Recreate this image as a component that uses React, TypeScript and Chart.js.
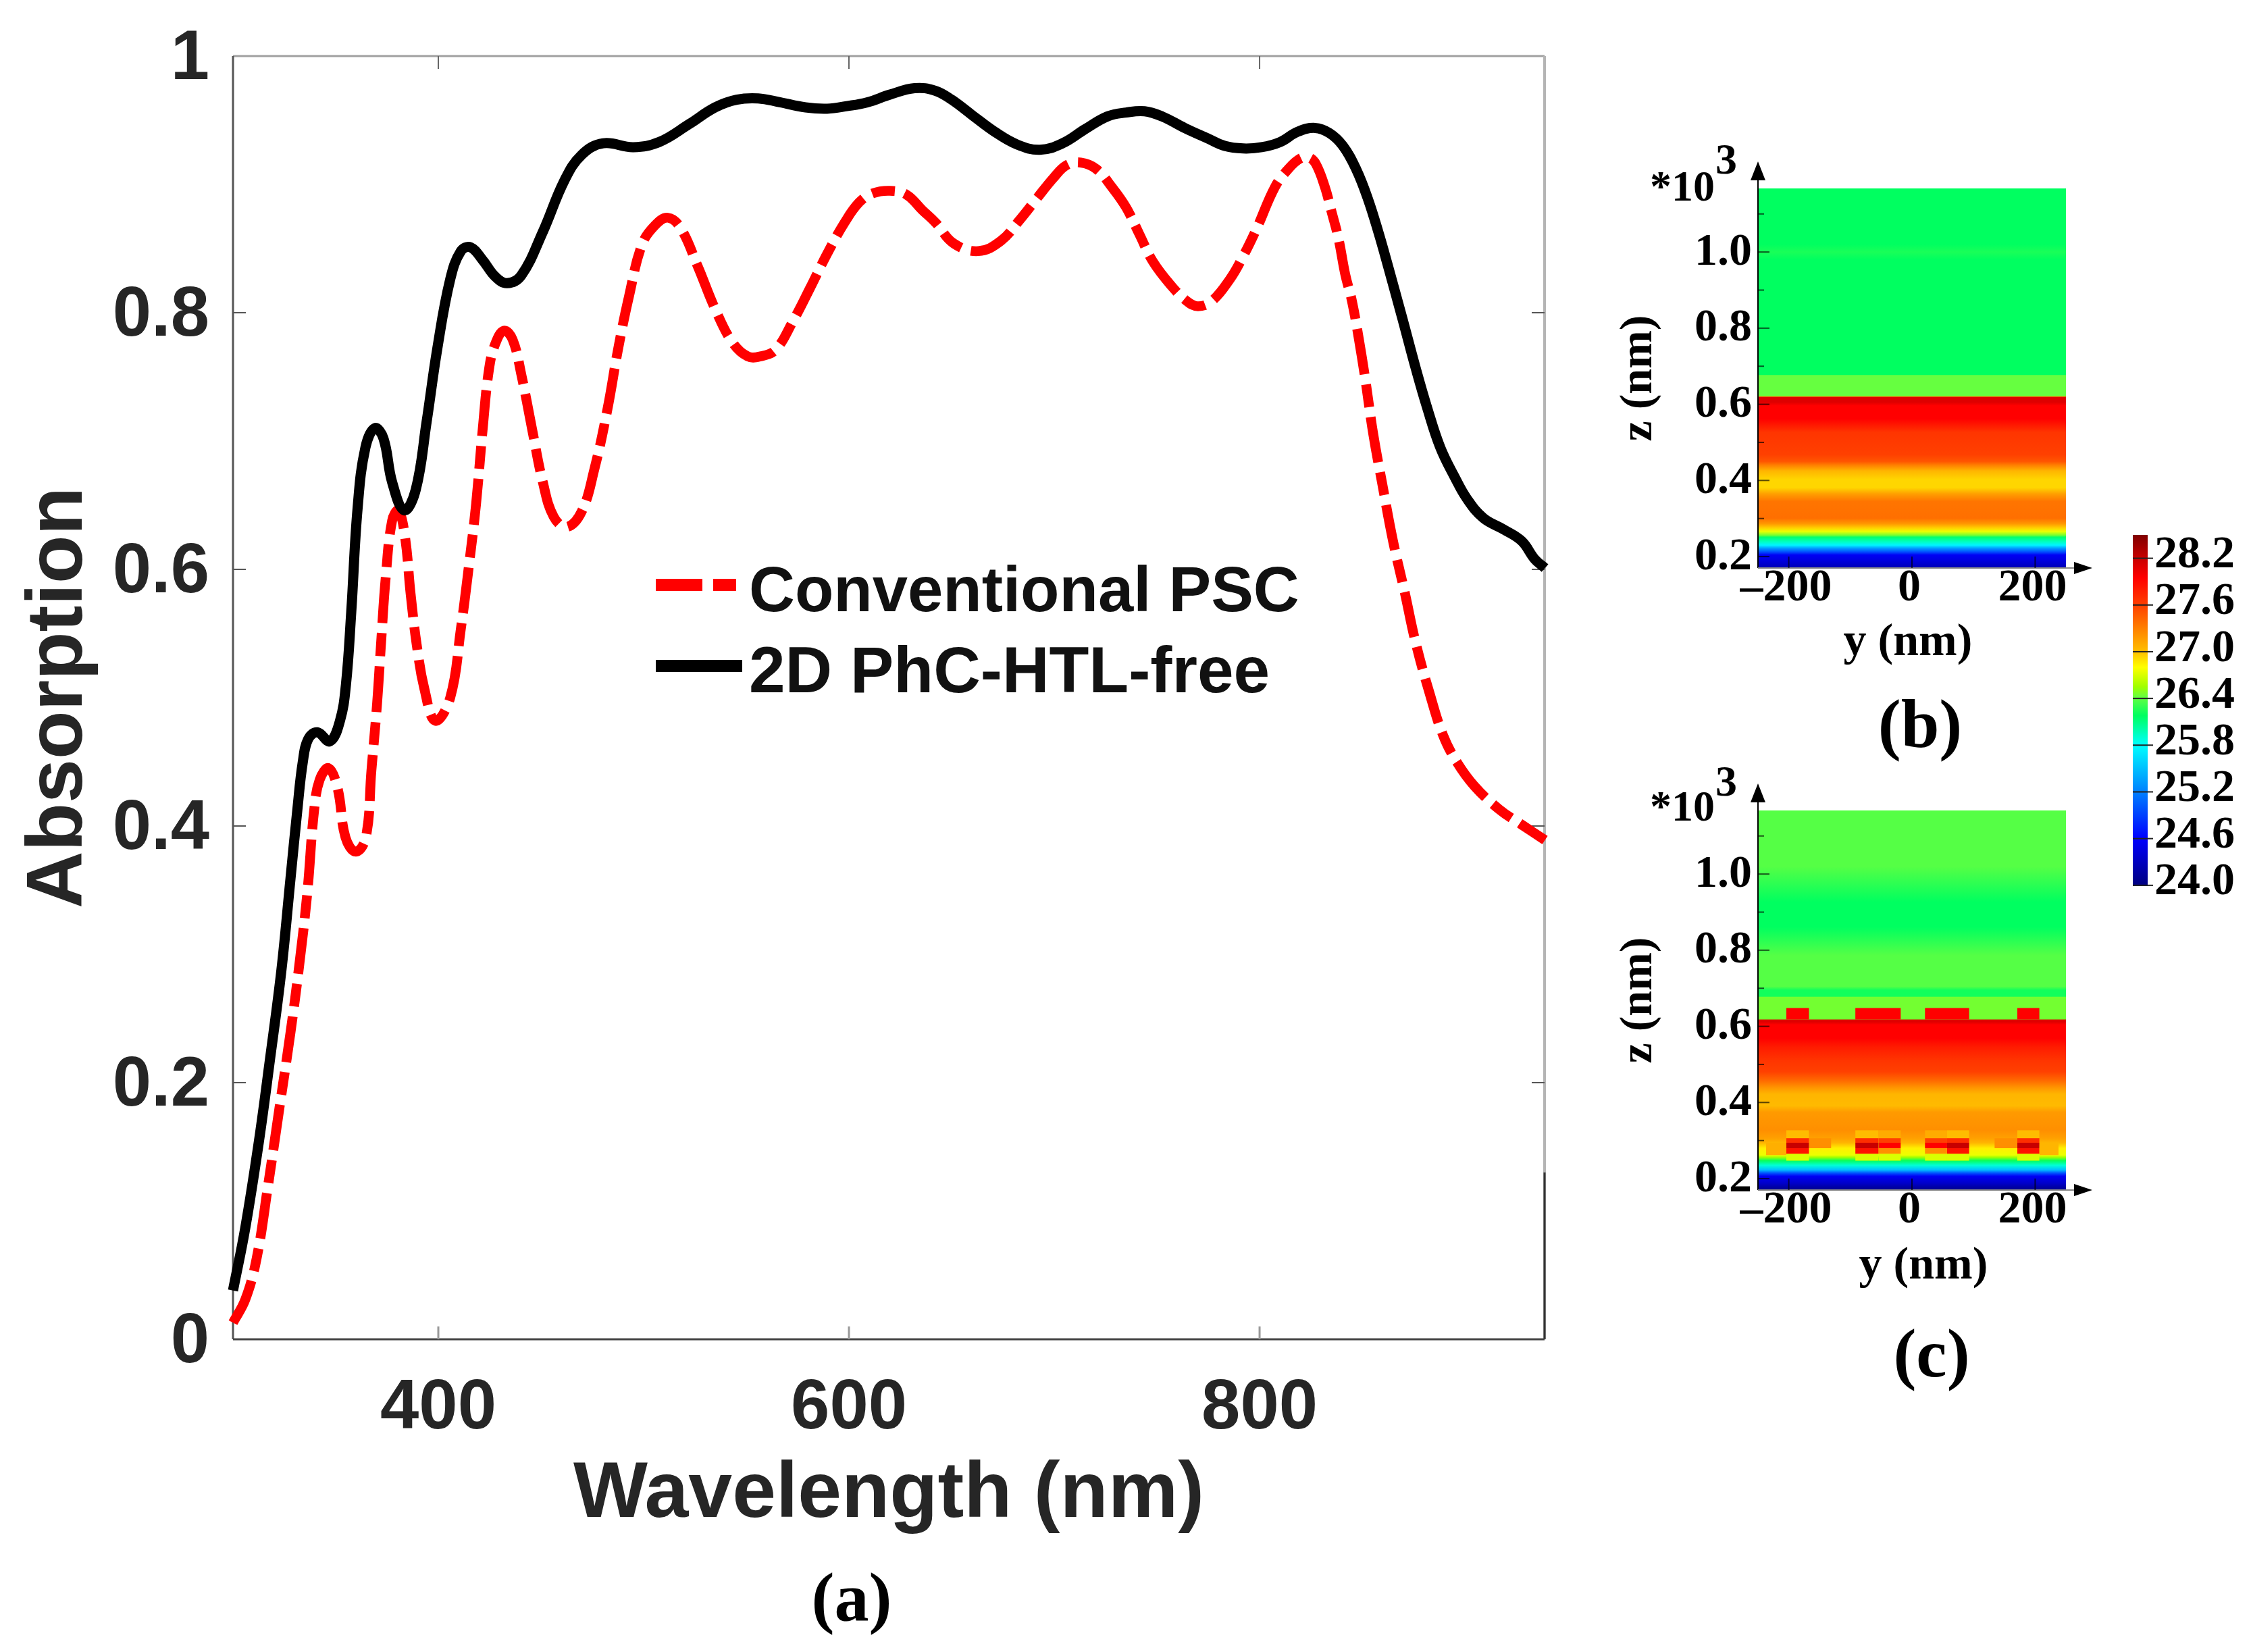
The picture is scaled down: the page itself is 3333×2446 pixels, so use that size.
import React, { useEffect, useRef } from 'react';
import { Chart, registerables } from 'chart.js';

Chart.register(...registerables);

// panel (a) curves
const freeWavelength = [300, 306, 312.6, 318, 323.6, 328, 331.3, 334, 336.7, 341.1, 347.2, 352.1, 355, 357.6, 360.7, 364.5, 369.1, 373.3, 377.5, 383.4, 389, 394.3, 399.5, 405.8, 411, 415.7, 421.6, 427.8, 433.5, 440.4, 450.9, 461.4, 469.8, 480.3, 495, 507.6, 522.2, 534.8, 545.3, 555.8, 566.3, 578.9, 589.4, 599, 609, 620, 632, 642, 650, 660, 671, 682, 693, 704, 715, 726, 735, 744, 752.5, 763.5, 774.5, 783, 792, 801, 810, 818.5, 827, 834, 840.6, 847, 852.7, 858, 862.6, 869.3, 876, 881.6, 888, 895, 901, 909, 919, 927.7, 934, 939];
const freeAbsorption = [0.038, 0.087, 0.154, 0.218, 0.288, 0.359, 0.412, 0.45, 0.468, 0.473, 0.466, 0.482, 0.51, 0.567, 0.648, 0.695, 0.71, 0.702, 0.668, 0.646, 0.662, 0.715, 0.772, 0.826, 0.848, 0.851, 0.841, 0.828, 0.823, 0.829, 0.863, 0.903, 0.923, 0.932, 0.929, 0.933, 0.947, 0.96, 0.966, 0.967, 0.964, 0.96, 0.959, 0.961, 0.964, 0.97, 0.975, 0.973, 0.966, 0.954, 0.941, 0.931, 0.927, 0.932, 0.943, 0.953, 0.956, 0.957, 0.953, 0.944, 0.936, 0.93, 0.928, 0.929, 0.933, 0.941, 0.944, 0.94, 0.93, 0.912, 0.889, 0.862, 0.836, 0.797, 0.757, 0.726, 0.695, 0.672, 0.655, 0.64, 0.631, 0.622, 0.608, 0.601];

const convWavelength = [300, 306, 311.5, 317, 322.5, 328, 332.3, 336.2, 339.5, 342.2, 346.6, 351, 354.8, 359.8, 364.7, 367.4, 370.2, 372.3, 374.4, 377.5, 380.6, 383.8, 386.5, 389.5, 393.2, 398.5, 405.8, 411, 415.3, 418.4, 421.6, 424.7, 427.8, 432, 436.2, 440.4, 445.7, 450.9, 456.2, 462.5, 469.8, 476, 482.4, 487.6, 492.9, 499.2, 505.5, 511.8, 518, 526.4, 534.8, 543.2, 550.6, 556.9, 564.2, 572.6, 581, 589.4, 597.8, 605, 611.6, 620, 628, 635.7, 642.3, 651, 663, 674, 683, 691, 699.6, 706, 713, 720.5, 728, 735, 741.5, 748, 757, 764.6, 770, 776.7, 785.5, 792, 798.7, 807.5, 814, 819.6, 824, 827.4, 831.8, 835, 838.4, 841.7, 845, 848.3, 851.6, 855.3, 859.7, 865, 870.7, 876, 882.7, 889.3, 896, 904.7, 916.7, 927.7, 939];
const convAbsorption = [0.013, 0.031, 0.063, 0.119, 0.179, 0.239, 0.292, 0.348, 0.412, 0.436, 0.445, 0.429, 0.391, 0.38, 0.391, 0.443, 0.496, 0.547, 0.594, 0.638, 0.646, 0.625, 0.581, 0.541, 0.507, 0.482, 0.5, 0.554, 0.608, 0.651, 0.709, 0.756, 0.776, 0.786, 0.779, 0.752, 0.709, 0.668, 0.641, 0.633, 0.645, 0.678, 0.725, 0.772, 0.813, 0.853, 0.868, 0.874, 0.866, 0.836, 0.803, 0.777, 0.766, 0.766, 0.771, 0.793, 0.819, 0.846, 0.87, 0.886, 0.893, 0.895, 0.892, 0.88, 0.87, 0.854, 0.848, 0.856, 0.872, 0.888, 0.905, 0.915, 0.917, 0.912, 0.898, 0.882, 0.861, 0.84, 0.821, 0.809, 0.805, 0.809, 0.826, 0.844, 0.866, 0.898, 0.912, 0.92, 0.921, 0.916, 0.898, 0.879, 0.858, 0.83, 0.809, 0.78, 0.747, 0.706, 0.667, 0.622, 0.582, 0.543, 0.504, 0.471, 0.45, 0.431, 0.413, 0.401, 0.389];

const wavelengthTicks = [400, 600, 800];
const absorptionTicks = [0, 0.2, 0.4, 0.6, 0.8, 1];

// panels (b) and (c): z in units of 10^3 nm, temperature profile along z
// a repeated z is a sharp jump between two layers
const zTicks = [0.2, 0.3, 0.4, 0.5, 0.6, 0.7, 0.8, 0.9, 1.0, 1.1];
const zTickText = ['0.2', '', '0.4', '', '0.6', '', '0.8', '', '1.0', ''];
const yTicks = [-200, 0, 200];

const profileZB = [1.168, 1.02, 1.0, 0.98, 0.677, 0.677, 0.621, 0.621, 0.618, 0.606, 0.596, 0.562, 0.526, 0.468, 0.45, 0.44, 0.425, 0.402, 0.381, 0.365, 0.345, 0.301, 0.287, 0.275, 0.266, 0.256, 0.251, 0.239, 0.23, 0.222, 0.212, 0.204, 0.19, 0.17];
const profileTB = [26.18, 26.18, 26.24, 26.18, 26.18, 26.42, 26.42, 27.2, 28.1, 28.1, 27.95, 27.95, 27.66, 27.6, 27.5, 27.3, 27.05, 26.93, 26.93, 27.15, 27.35, 27.38, 27.2, 26.95, 26.75, 26.45, 26.15, 25.95, 25.75, 25.35, 24.95, 24.55, 24.45, 24.25];

const profileZC = [1.168, 1.02, 0.926, 0.861, 0.786, 0.705, 0.695, 0.678, 0.678, 0.618, 0.618, 0.612, 0.604, 0.569, 0.546, 0.51, 0.481, 0.457, 0.439, 0.422, 0.392, 0.374, 0.327, 0.306, 0.294, 0.28, 0.262, 0.256, 0.247, 0.235, 0.223, 0.214, 0.206, 0.188, 0.17];
const profileTC = [26.38, 26.38, 26.18, 26.18, 26.38, 26.38, 26.22, 26.22, 26.45, 26.45, 28.1, 28.1, 27.95, 27.95, 27.8, 27.66, 27.6, 27.4, 27.2, 27.05, 27.03, 27.18, 27.23, 27.15, 27.05, 26.85, 26.75, 26.55, 26.2, 25.9, 25.5, 24.95, 24.55, 24.35, 24.05];

// y start, y end, z top, z bottom, temperature
const cellsC: number[][] = [
  [-204, -167, 0.648, 0.618, 27.95], [-92, -18, 0.648, 0.618, 27.95], [21, 93, 0.648, 0.618, 27.95], [171, 207, 0.648, 0.618, 27.95],
  [-237, -204, 0.294, 0.262, 27.08], [-167, -131, 0.306, 0.28, 27.23], [134, 171, 0.306, 0.28, 27.23], [207, 238, 0.294, 0.262, 27.05],
  [-204, -167, 0.327, 0.306, 27.02], [-204, -167, 0.306, 0.294, 27.7], [-204, -167, 0.294, 0.28, 28.2], [-204, -167, 0.28, 0.265, 27.85], [-204, -167, 0.265, 0.247, 26.7],
  [-92, -54, 0.327, 0.306, 27.02], [-92, -54, 0.306, 0.294, 27.7], [-92, -54, 0.294, 0.28, 28.2], [-92, -54, 0.28, 0.265, 27.85], [-92, -54, 0.265, 0.247, 26.7],
  [-54, -18, 0.327, 0.306, 27.1], [-54, -18, 0.306, 0.294, 27.6], [-54, -18, 0.294, 0.28, 27.95], [-54, -18, 0.28, 0.265, 27.23], [-54, -18, 0.265, 0.247, 26.7],
  [21, 57, 0.327, 0.306, 27.1], [21, 57, 0.306, 0.294, 27.6], [21, 57, 0.294, 0.28, 27.95], [21, 57, 0.28, 0.265, 27.23], [21, 57, 0.265, 0.247, 26.7],
  [57, 93, 0.327, 0.306, 27.02], [57, 93, 0.306, 0.294, 27.7], [57, 93, 0.294, 0.28, 28.2], [57, 93, 0.28, 0.265, 27.85], [57, 93, 0.265, 0.247, 26.7],
  [171, 207, 0.327, 0.306, 27.02], [171, 207, 0.306, 0.294, 27.7], [171, 207, 0.294, 0.28, 28.2], [171, 207, 0.28, 0.265, 27.85], [171, 207, 0.265, 0.247, 26.7],
];

// colour bar
const colorTicks = [24.0, 24.6, 25.2, 25.8, 26.4, 27.0, 27.6, 28.2];
const colorStops: [number, number[]][] = [
  [24.0, [0, 0, 128]], [24.6, [0, 0, 255]], [25.2, [0, 128, 255]], [25.8, [0, 255, 255]],
  [26.1, [0, 255, 128]], [26.18, [0, 255, 96]], [26.42, [102, 255, 64]], [26.55, [160, 255, 0]],
  [26.8, [255, 255, 0]], [27.0, [255, 192, 0]], [27.3, [255, 128, 0]], [27.6, [255, 64, 0]],
  [27.95, [255, 0, 0]], [28.2, [200, 0, 0]], [28.5, [128, 0, 0]],
];

const heatColor = (t: number) => {
  for (let i = 1; i < colorStops.length; i++) {
    const [t1, c1] = colorStops[i];
    if (t <= t1) {
      const [t0, c0] = colorStops[i - 1];
      const f = Math.max(0, (t - t0) / (t1 - t0));
      const c = c0.map((v, k) => Math.round(v + (c1[k] - v) * f));
      return `rgb(${c[0]},${c[1]},${c[2]})`;
    }
  }
  return 'rgb(128,0,0)';
};

const SANS = "'Liberation Sans', Arial, sans-serif";
const SERIF = "'Liberation Serif', 'Times New Roman', serif";

const useChart = (makeConfig: () => any) => {
  const ref = useRef<HTMLCanvasElement>(null);
  useEffect(() => {
    if (!ref.current) return;
    const chart = new Chart(ref.current, makeConfig());
    return () => chart.destroy();
  }, []);
  return ref;
};

const toXY = (xs: number[], ys: number[]) => xs.map((x, i) => ({ x, y: ys[i] }));

// the layout must not grow the plot area for labels that stick out
const noOverflow = (s: any) => {
  s.paddingTop = 0;
  s.paddingBottom = 0;
  s.paddingLeft = 0;
  s.paddingRight = 0;
};

// box and inward ticks of panel (a)
const boxPlugin = {
  id: 'box',
  beforeDatasetsDraw(chart: any) {
    const { ctx, chartArea: a, scales } = chart;
    ctx.save();
    ctx.lineCap = 'butt';
    const line = (x0: number, y0: number, x1: number, y1: number, c: string, w: number) => {
      ctx.strokeStyle = c;
      ctx.lineWidth = w;
      ctx.beginPath();
      ctx.moveTo(x0, y0);
      ctx.lineTo(x1, y1);
      ctx.stroke();
    };
    line(a.left, a.top, a.right, a.top, '#a0a0a0', 3);
    line(a.right, a.top, a.right, a.bottom, '#b4b4b4', 4);
    line(a.right, scales.y.getPixelForValue(0.13), a.right, a.bottom, '#333', 3);
    line(a.left, a.top, a.left, a.bottom, '#555', 3);
    line(a.left, a.bottom, a.right, a.bottom, '#444', 3);
    scales.x.ticks.forEach((t: any) => {
      const x = scales.x.getPixelForValue(t.value);
      line(x, a.top, x, a.top + 19, '#666', 2);
      line(x, a.bottom, x, a.bottom - 19, '#999', 3);
    });
    scales.y.ticks.forEach((t: any) => {
      if (t.value === 0 || t.value === 1) return;
      const y = scales.y.getPixelForValue(t.value);
      line(a.left, y, a.left + 19, y, '#555', 2);
      line(a.right, y, a.right - 19, y, '#555', 2);
    });
    ctx.restore();
  },
};

// axes with arrow heads of panels (b) and (c)
const arrowPlugin = {
  id: 'arrows',
  afterDatasetsDraw(chart: any) {
    const { ctx, chartArea: a, scales } = chart;
    ctx.save();
    ctx.strokeStyle = '#000';
    ctx.fillStyle = '#000';
    ctx.lineWidth = 2;
    ctx.beginPath();
    ctx.moveTo(a.left, a.bottom);
    ctx.lineTo(a.left, a.top - 30);
    ctx.stroke();
    ctx.strokeStyle = '#888';
    ctx.beginPath();
    ctx.moveTo(a.left, a.bottom);
    ctx.lineTo(a.right + 14, a.bottom);
    ctx.stroke();
    ctx.beginPath();
    ctx.moveTo(a.left, a.top - 40);
    ctx.lineTo(a.left - 11, a.top - 12);
    ctx.lineTo(a.left + 11, a.top - 12);
    ctx.closePath();
    ctx.fill();
    ctx.beginPath();
    ctx.moveTo(a.right + 39, a.bottom);
    ctx.lineTo(a.right + 12, a.bottom - 9);
    ctx.lineTo(a.right + 12, a.bottom + 9);
    ctx.closePath();
    ctx.fill();
    ctx.strokeStyle = 'rgba(0,0,0,0.65)';
    scales.y.ticks.forEach((t: any, i: number) => {
      const y = scales.y.getPixelForValue(t.value);
      ctx.beginPath();
      ctx.moveTo(a.left, y);
      ctx.lineTo(a.left + (i % 2 ? 9 : 17), y);
      ctx.stroke();
    });
    scales.x.ticks.forEach((t: any) => {
      const x = scales.x.getPixelForValue(t.value);
      ctx.beginPath();
      ctx.moveTo(x, a.bottom);
      ctx.lineTo(x, a.bottom - 17);
      ctx.stroke();
    });
    ctx.restore();
  },
};

const colorTickPlugin = {
  id: 'colorTicks',
  afterDatasetsDraw(chart: any) {
    const { ctx, chartArea: a, scales } = chart;
    ctx.save();
    ctx.strokeStyle = '#222';
    ctx.lineWidth = 2;
    scales.y.ticks.forEach((t: any) => {
      const y = scales.y.getPixelForValue(t.value);
      ctx.beginPath();
      ctx.moveTo(a.left, y);
      ctx.lineTo(a.right + 8, y);
      ctx.stroke();
    });
    ctx.restore();
  },
};

const AbsorptionChart = () => {
  const ref = useChart(() => ({
    type: 'line',
    data: {
      datasets: [
        {
          label: '2D PhC-HTL-free',
          data: toXY(freeWavelength, freeAbsorption),
          borderColor: '#000',
          borderWidth: 15,
          pointRadius: 0,
          tension: 0.4,
          clip: false,
        },
        {
          label: 'Conventional PSC',
          data: toXY(convWavelength, convAbsorption),
          borderColor: '#ff0000',
          borderWidth: 14.5,
          borderDash: [68, 15, 34, 15],
          pointRadius: 0,
          tension: 0.4,
          clip: false,
        },
      ],
    },
    options: {
      responsive: false,
      animation: false,
      devicePixelRatio: 1,
      layout: { padding: { top: 83, right: 113, left: 0, bottom: 0 } },
      plugins: { legend: { display: false }, tooltip: { enabled: false } },
      scales: {
        x: {
          type: 'linear',
          min: 300,
          max: 938.8,
          afterBuildTicks: (s: any) => { s.ticks = wavelengthTicks.map(value => ({ value })); },
          afterFit: (s: any) => { s.height = 301; noOverflow(s); },
          grid: { display: false, drawTicks: false },
          border: { display: false },
          ticks: { color: '#262626', padding: 42, maxRotation: 0, autoSkip: false, font: { family: SANS, weight: 'bold', size: 103 } },
          title: { display: true, text: 'Wavelength (nm)', color: '#262626', padding: 0, font: { family: SANS, weight: 'bold', size: 116.5 } },
        },
        y: {
          min: 0,
          max: 1,
          afterBuildTicks: (s: any) => { s.ticks = absorptionTicks.map(value => ({ value })); },
          afterFit: (s: any) => { s.width = 345; noOverflow(s); },
          grid: { display: false, drawTicks: false },
          border: { display: false },
          ticks: {
            color: '#262626',
            padding: 35,
            labelOffset: 6,
            autoSkip: false,
            callback: (v: number) => (v === 0 || v === 1 ? String(v) : v.toFixed(1)),
            font: { family: SANS, weight: 'bold', size: 103 },
          },
          title: { display: true, text: 'Absorption', color: '#262626', padding: { top: 19, bottom: 0 }, font: { family: SANS, weight: 'bold', size: 117 } },
        },
      },
    },
    plugins: [boxPlugin],
  }));
  return <canvas ref={ref} width={2400} height={2284} style={{ position: 'absolute', left: 0, top: 0 }} />;
};

interface FieldMapProps {
  top: number;
  profileZ: number[];
  profileT: number[];
  cells: number[][];
}

const FieldMap: React.FC<FieldMapProps> = ({ top, profileZ, profileT, cells }) => {
  const ref = useChart(() => {
    const zBottom = profileZ[profileZ.length - 1];
    const datasets: any[] = [];
    // each segment fills down to the bottom, the next one paints over it, so no seams show
    for (let i = 0; i < profileZ.length - 1; i++) {
      if (profileZ[i] === profileZ[i + 1]) continue;
      datasets.push({
        data: [{ x: -250, y: profileZ[i] }, { x: 250, y: profileZ[i] }],
        fill: { value: zBottom },
        backgroundColor: (c: any) => {
          const { chart } = c;
          if (!chart.chartArea) return heatColor(profileT[i]);
          const y = chart.scales.y;
          const g = chart.ctx.createLinearGradient(0, y.getPixelForValue(profileZ[i]), 0, y.getPixelForValue(profileZ[i + 1]));
          g.addColorStop(0, heatColor(profileT[i]));
          g.addColorStop(1, heatColor(profileT[i + 1]));
          return g;
        },
        borderWidth: 0,
        pointRadius: 0,
      });
    }
    cells.forEach(([y0, y1, zTop, zEnd, t]) => {
      datasets.push({
        data: [{ x: y0, y: zTop }, { x: y1, y: zTop }],
        fill: { value: zEnd },
        backgroundColor: heatColor(t),
        borderWidth: 0,
        pointRadius: 0,
      });
    });
    return {
      type: 'line',
      data: { datasets: datasets.reverse() },
      options: {
        responsive: false,
        animation: false,
        devicePixelRatio: 1,
        layout: { padding: { top: 79, right: 51, left: 0, bottom: 0 } },
        plugins: { legend: { display: false }, tooltip: { enabled: false } },
        scales: {
          x: {
            type: 'linear',
            min: -250,
            max: 250,
            afterBuildTicks: (s: any) => { s.ticks = yTicks.map(value => ({ value })); },
            afterFit: (s: any) => { s.height = 80; noOverflow(s); },
            grid: { display: false, drawTicks: false },
            border: { display: false },
            ticks: {
              color: '#000',
              padding: -10,
              labelOffset: -4,
              maxRotation: 0,
              autoSkip: false,
              callback: (v: number) => (v < 0 ? '\u2013' + Math.abs(v) : String(v)),
              font: { family: SERIF, weight: 'bold', size: 68 },
            },
          },
          y: {
            min: 0.17,
            max: 1.167,
            afterBuildTicks: (s: any) => { s.ticks = zTicks.map(value => ({ value })); },
            afterFit: (s: any) => { s.width = 216; noOverflow(s); },
            grid: { display: false, drawTicks: false },
            border: { display: false },
            ticks: {
              color: '#000',
              padding: 9,
              labelOffset: 1,
              autoSkip: false,
              callback: (_v: number, i: number) => zTickText[i],
              font: { family: SERIF, weight: 'bold', size: 68 },
            },
            title: { display: true, text: 'z (nm)', color: '#000', padding: 0, font: { family: SERIF, weight: 'bold', size: 68 } },
          },
        },
      },
      plugins: [arrowPlugin],
    };
  });
  return <canvas ref={ref} width={723} height={721} style={{ position: 'absolute', left: 2387, top }} />;
};

const ColorBar = () => {
  const ref = useChart(() => ({
    type: 'bar',
    data: {
      labels: ['T'],
      datasets: [
        {
          data: [[23.99, 28.5]],
          barPercentage: 1,
          categoryPercentage: 1,
          backgroundColor: (c: any) => {
            const { chart } = c;
            const { chartArea, scales } = chart;
            if (!chartArea) return '#000';
            const g = chart.ctx.createLinearGradient(0, scales.y.getPixelForValue(23.99), 0, scales.y.getPixelForValue(28.5));
            colorStops.forEach(([t]) => g.addColorStop(Math.min(1, Math.max(0, (t - 23.99) / 4.51)), heatColor(t)));
            return g;
          },
        },
      ],
    },
    options: {
      responsive: false,
      animation: false,
      devicePixelRatio: 1,
      layout: { padding: { top: 12, left: 8, right: 0, bottom: 48 } },
      plugins: { legend: { display: false }, tooltip: { enabled: false } },
      scales: {
        x: { display: false },
        y: {
          position: 'right',
          min: 23.99,
          max: 28.5,
          afterBuildTicks: (s: any) => { s.ticks = colorTicks.map(value => ({ value })); },
          afterFit: (s: any) => { s.width = 153; noOverflow(s); },
          grid: { display: false, drawTicks: false },
          border: { display: false },
          ticks: {
            color: '#000',
            padding: 10,
            labelOffset: -4,
            autoSkip: false,
            callback: (v: number) => v.toFixed(1),
            font: { family: SERIF, weight: 'bold', size: 68 },
          },
        },
      },
    },
    plugins: [colorTickPlugin],
  }));
  return <canvas ref={ref} width={183} height={580} style={{ position: 'absolute', left: 3150, top: 780 }} />;
};

const Label: React.FC<{ x: number; y: number; size: number; family?: string; color?: string; left?: boolean; children: React.ReactNode }> = ({
  x, y, size, family = SERIF, color = '#000', left = false, children,
}) => (
  <div
    style={{
      position: 'absolute',
      left: x,
      top: y,
      transform: left ? 'translateY(-50%)' : 'translate(-50%, -50%)',
      font: `bold ${size}px ${family}`,
      lineHeight: 1,
      color,
      whiteSpace: 'nowrap',
    }}
  >
    {children}
  </div>
);

const Swatch: React.FC<{ x0: number; x1: number; y: number; color: string }> = ({ x0, x1, y, color }) => (
  <div style={{ position: 'absolute', left: x0, width: x1 - x0, top: y - 9, height: 18, background: color }} />
);

export default function App() {
  return (
    <div style={{ position: 'absolute', left: 0, top: 0, width: 3333, height: 2446, background: '#fff', overflow: 'hidden' }}>
      <AbsorptionChart />
      <FieldMap top={200} profileZ={profileZB} profileT={profileTB} cells={[]} />
      <FieldMap top={1121} profileZ={profileZC} profileT={profileTC} cells={cellsC} />
      <ColorBar />

      <Swatch x0={971} x1={1040} y={866} color="#ff0000" />
      <Swatch x0={1056} x1={1090} y={866} color="#ff0000" />
      <Swatch x0={971} x1={1099} y={986} color="#000" />
      <Label x={1109} y={873} size={94} family={SANS} color="#111" left>Conventional PSC</Label>
      <Label x={1109} y={992} size={96.4} family={SANS} color="#111" left>2D PhC-HTL-free</Label>

      <Label x={2825} y={947} size={68}>y (nm)</Label>
      <Label x={2848} y={1870} size={68}>y (nm)</Label>
      <Label x={2491} y={276} size={64}>*10</Label>
      <Label x={2556} y={236} size={64}>3</Label>
      <Label x={2491} y={1194} size={64}>*10</Label>
      <Label x={2556} y={1157} size={64}>3</Label>

      <Label x={1261} y={2365} size={102}>(a)</Label>
      <Label x={2843} y={1072} size={102}>(b)</Label>
      <Label x={2860} y={2004} size={102}>(c)</Label>
    </div>
  );
}
